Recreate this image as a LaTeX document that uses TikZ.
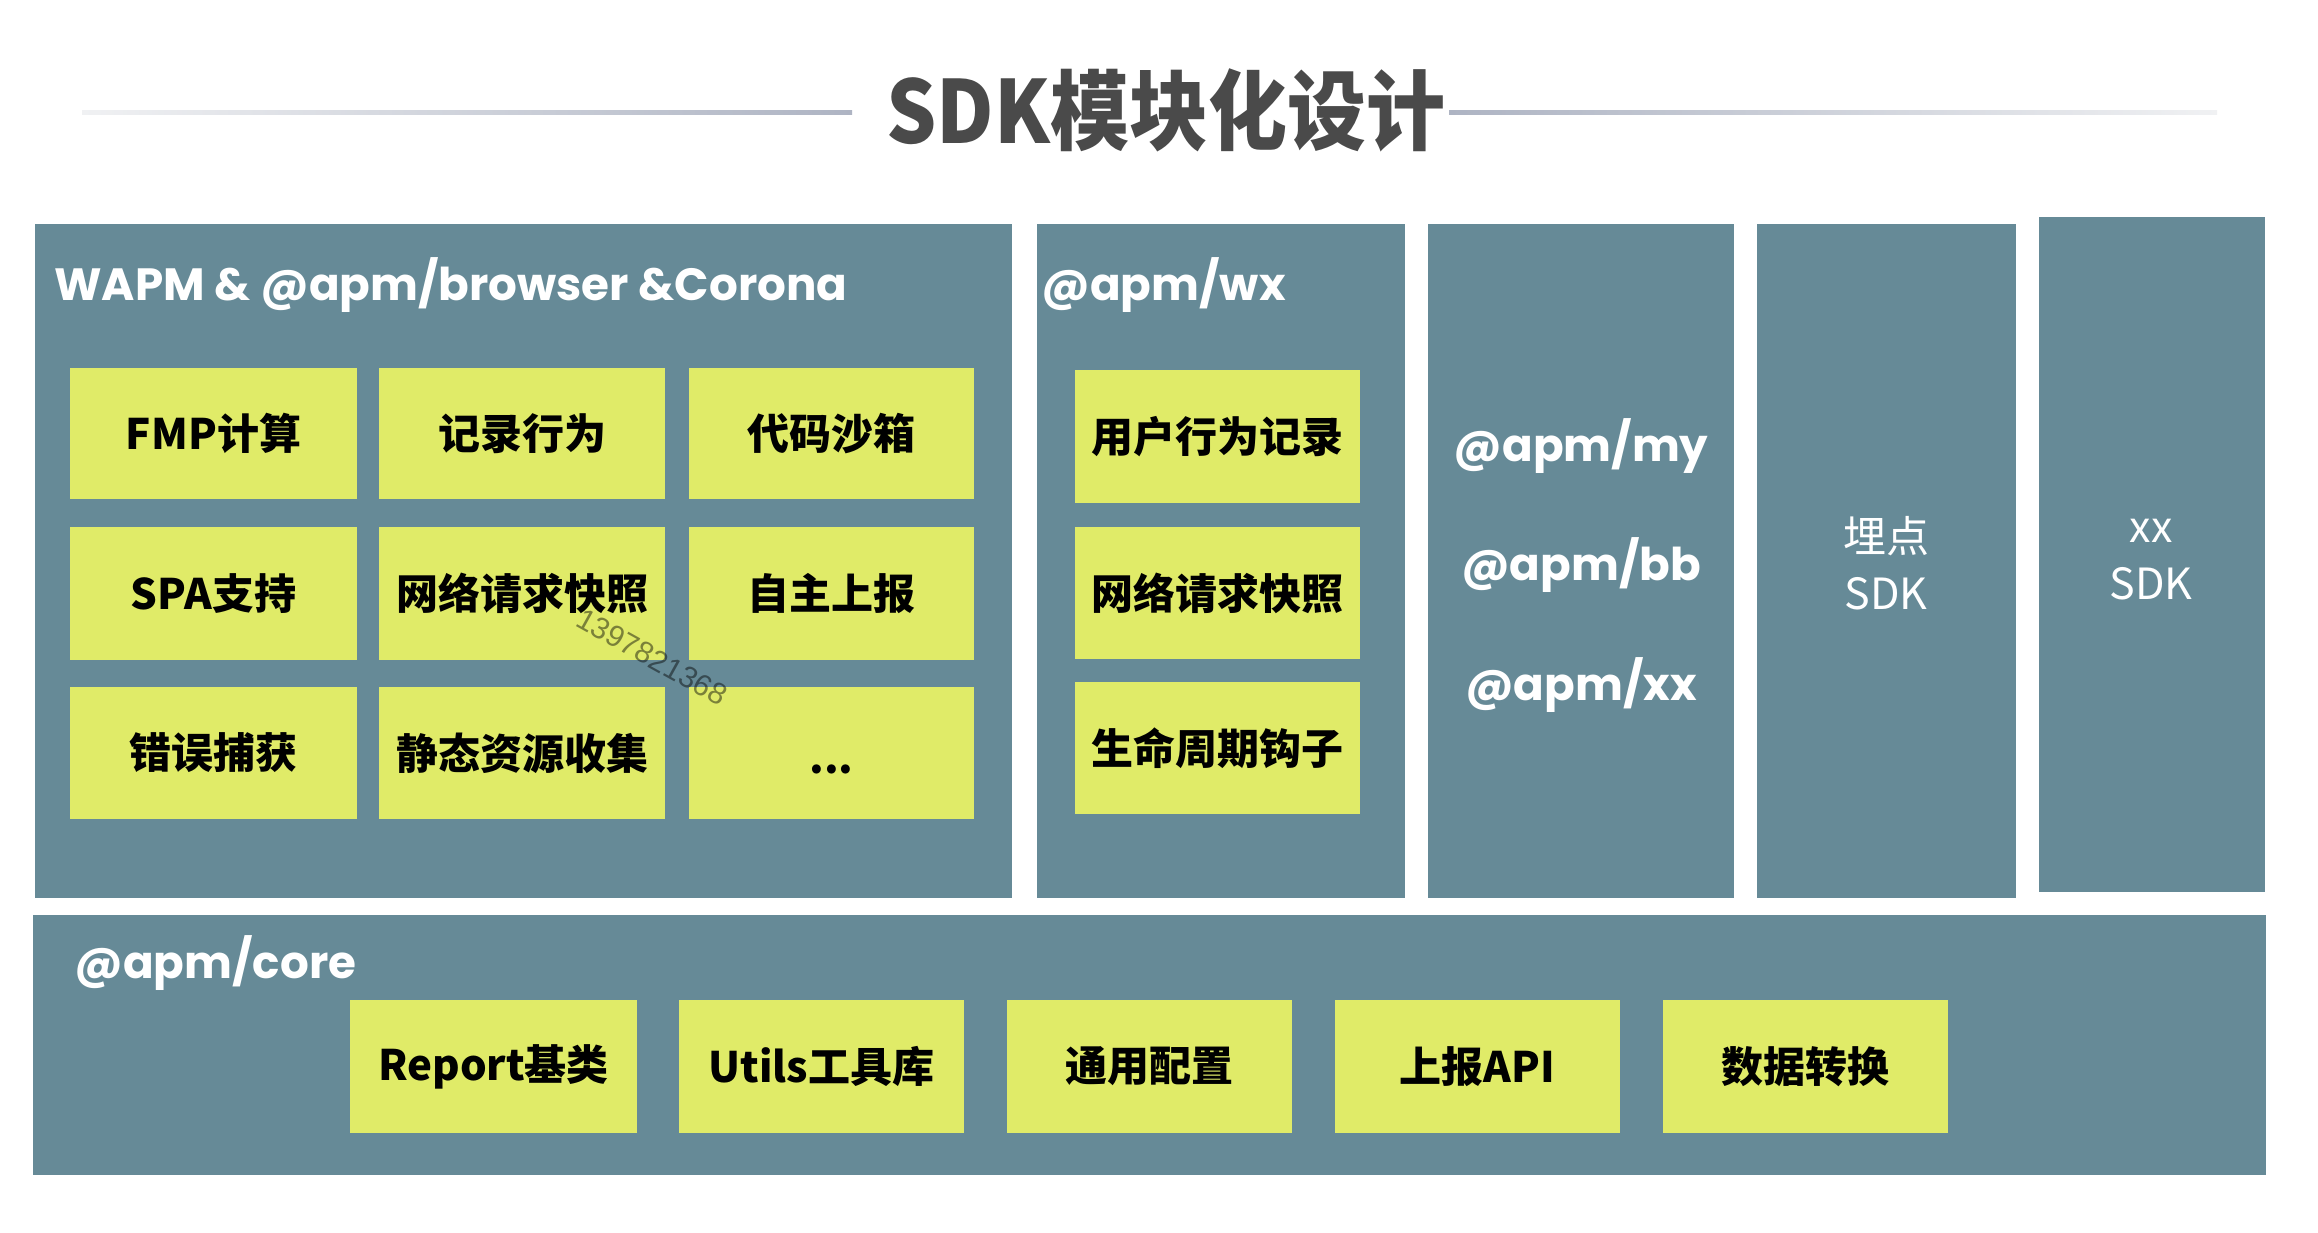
\documentclass[tikz,border=0pt]{standalone}
\usepackage{fontspec}
\setmainfont{Liberation Sans}
\newfontfamily\cjk{Noto Sans CJK SC}
\newfontfamily\pop{Poppins}
\usetikzlibrary{fit}
\definecolor{slate}{HTML}{668A97}
\definecolor{lime}{HTML}{E0EB68}
\definecolor{titlegray}{HTML}{4A4A4A}
\definecolor{linedark}{HTML}{AEB4C3}
\definecolor{linelight}{HTML}{F0F1F3}
\begin{document}
\begin{tikzpicture}[x=0.5pt,y=-0.5pt,
  panel/.style={fill=slate, draw=none, inner sep=0pt, outer sep=0pt},
  cell/.style={fill=lime, draw=none, inner sep=0pt, outer sep=0pt},
  celltxt/.style={text=black, inner sep=0pt, font=\cjk\bfseries\fontsize{21pt}{24pt}\selectfont},
  lbl/.style={text=white, inner sep=0pt, font=\pop\bfseries\fontsize{22.6pt}{24pt}\selectfont},
  sdk/.style={text=white, inner sep=0pt, align=center, font=\cjk\fontsize{21.5pt}{28.5pt}\selectfont}]
\useasboundingbox[fill=white] (0,0) rectangle (2318,1232);

% title and rules
\shade[left color=linelight, right color=linedark] (82,110) rectangle (852,114);
\shade[left color=linedark, right color=linelight] (1449,110) rectangle (2217,114);
\node[text=titlegray, inner sep=0pt, font=\cjk\bfseries\fontsize{39.5pt}{42pt}\selectfont] (title) at (1166,110) {\scalebox{1}[1.1]{SDK模块化设计}};

% panels
\node[panel, fit={(35,224) (1012,898)}] (wapm) {};
\node[panel, fit={(1037,224) (1405,898)}] (wx) {};
\node[panel, fit={(1428,224) (1734,898)}] (my) {};
\node[panel, fit={(1757,224) (2016,898)}] (maidian) {};
\node[panel, fit={(2039,217) (2265,892)}] (xxsdk) {};
\node[panel, fit={(33,915) (2266,1175)}] (core) {};

% panel labels
\node[lbl, anchor=base west] (wapmlbl) at (54,300) {WAPM \& @apm/browser \&Corona};
\node[lbl, anchor=base west] (wxlbl) at (1041,300) {@apm/wx};
\node[lbl, anchor=base] (mylbl) at (1581,461) {@apm/my};
\node[lbl, anchor=base] (bblbl) at (1581,580) {@apm/bb};
\node[lbl, anchor=base] (xxlbl) at (1581,700) {@apm/xx};
\node[lbl, anchor=base west] (corelbl) at (74,978) {@apm/core};
\node[sdk] (mdlbl) at (1886,563) {埋点\\SDK};
\node[sdk] (xxsdklbl) at (2151,560) {xx\\SDK};

% WAPM cells
\node[cell, fit={(70,368) (357,499)}] (fmp) {};
\node[cell, fit={(379,368) (665,499)}] (jilu) {};
\node[cell, fit={(689,368) (974,499)}] (shaxiang) {};
\node[cell, fit={(70,527) (357,660)}] (spa) {};
\node[cell, fit={(379,527) (665,660)}] (wangluo) {};
\node[cell, fit={(689,527) (974,660)}] (zizhu) {};
\node[cell, fit={(70,687) (357,819)}] (cuowu) {};
\node[cell, fit={(379,687) (665,819)}] (jingtai) {};
\node[cell, fit={(689,687) (974,819)}] (more) {};
\node[celltxt] (fmpt) at (fmp.center) {FMP计算};
\node[celltxt] (jilut) at (jilu.center) {记录行为};
\node[celltxt] (shaxiangt) at (shaxiang.center) {代码沙箱};
\node[celltxt] (spat) at (spa.center) {SPA支持};
\node[celltxt] (wangluot) at (wangluo.center) {网络请求快照};
\node[celltxt] (zizhut) at (zizhu.center) {自主上报};
\node[celltxt] (cuowut) at (cuowu.center) {错误捕获};
\node[celltxt] (jingtait) at (jingtai.center) {静态资源收集};
\node[celltxt] (moret) at ([yshift=-8]more.center) {...};

% wx cells
\node[cell, fit={(1075,370) (1360,503)}] (yonghu) {};
\node[cell, fit={(1075,527) (1360,659)}] (wxwangluo) {};
\node[cell, fit={(1075,682) (1360,814)}] (shengming) {};
\node[celltxt] (yonghut) at (yonghu.center) {用户行为记录};
\node[celltxt] (wxwangluot) at (wxwangluo.center) {网络请求快照};
\node[celltxt] (shengmingt) at (shengming.center) {生命周期钩子};

% core cells
\node[cell, fit={(350,1000) (637,1133)}] (report) {};
\node[cell, fit={(679,1000) (964,1133)}] (utils) {};
\node[cell, fit={(1007,1000) (1292,1133)}] (peizhi) {};
\node[cell, fit={(1335,1000) (1620,1133)}] (api) {};
\node[cell, fit={(1663,1000) (1948,1133)}] (zhuanhuan) {};
\node[celltxt] (reportt) at (report.center) {Report基类};
\node[celltxt] (utilst) at (utils.center) {Utils工具库};
\node[celltxt] (peizhit) at (peizhi.center) {通用配置};
\node[celltxt] (apit) at (api.center) {上报API};
\node[celltxt] (zhuanhuant) at (zhuanhuan.center) {数据转换};

% watermark
\node[rotate=-29, text=black, opacity=0.45, inner sep=0pt, font=\fontsize{15pt}{15pt}\selectfont] (wm) at (652,657) {1397821368};
\end{tikzpicture}
\end{document}
